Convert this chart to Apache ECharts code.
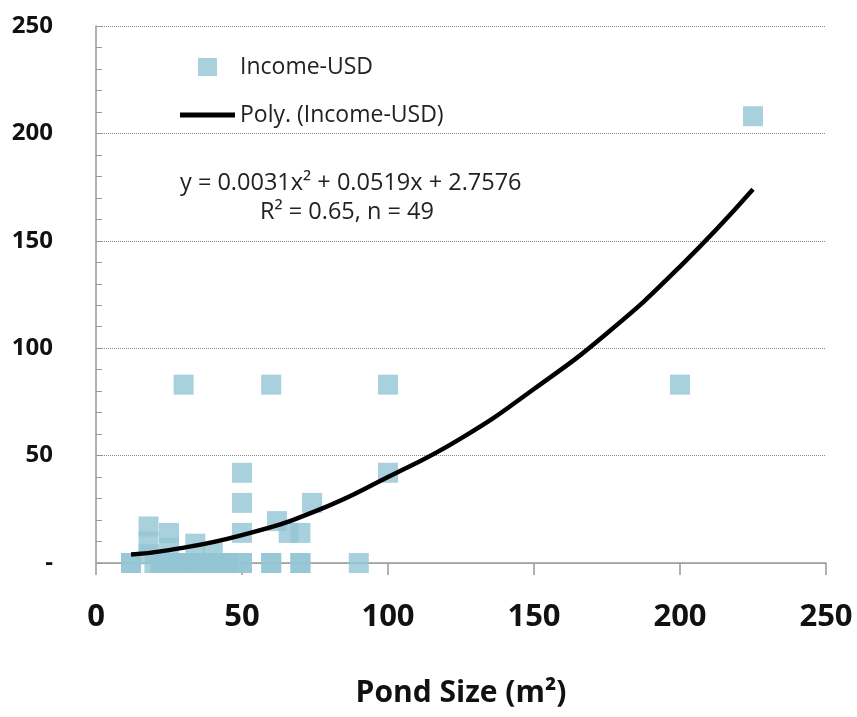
<!DOCTYPE html>
<html>
<head>
<meta charset="utf-8">
<script src="https://cdn.jsdelivr.net/npm/echarts@6/dist/echarts.min.js"></script>
<style>
  html, body { margin: 0; padding: 0; background: #fff; }
  #chart { width: 857px; height: 717px; }
</style>
</head>
<body>
<div id="chart"></div>
<script>
// pond size (m2) vs income (USD)
var pondSize = [
  225, 30, 60, 100, 200, 100,
  50, 50, 50, 50, 74, 62, 66, 70,
  60, 70, 90, 12, 18, 18, 18, 25, 25,
  34, 40, 23, 28, 32, 36, 40, 45,
  12, 23, 28, 32, 36, 45, 50, 60, 70,
  25, 30, 20, 40, 45, 35, 22, 27, 38
];
var income = [
  208, 83, 83, 83, 83, 42,
  42, 28, 14, 0, 28, 19.5, 14, 14,
  0, 0, 0, 0, 17, 10, 4, 14, 7,
  9, 5, 0, 0, 0, 0, 0, 0,
  0, 0, 0, 0, 0, 0, 0, 0, 0,
  0, 0, 0, 0, 0, 0, 0, 0, 0
];
// trend curve points
var trendX = [12, 25, 50, 75, 100, 125, 150, 175, 200, 225];
var trendY = [4, 6, 13, 24, 40, 58, 81, 107, 138, 174];

var yTicks = [0, 50, 100, 150, 200, 250];

var chart = echarts.init(document.getElementById('chart'));

var pts = pondSize.map(function (x, i) { return [x, income[i]]; });
var trend = trendX.map(function (x, i) { return [x, trendY[i]]; });

var txt = { fontFamily: 'Open Sans', fontSize: 23, color: '#222', lineHeight: 30 };

var option = {
  backgroundColor: '#fff',
  animation: false,
  grid: { left: 96, right: 31, top: 26, bottom: 154 },
  legend: [
    {
      data: [{ name: 'Income-USD', icon: 'rect' }],
      left: 198, top: 52, padding: 0,
      itemWidth: 19, itemHeight: 18,
      textStyle: Object.assign({}, txt, { padding: [0, 0, 0, 18] })
    },
    {
      data: [{ name: 'Poly. (Income-USD)', icon: 'rect' }],
      left: 180, top: 100, padding: 0,
      itemWidth: 55, itemHeight: 5,
      textStyle: txt
    }
  ],
  xAxis: {
    type: 'value',
    min: 0, max: 250, interval: 50,
    name: 'Pond Size (m²)',
    nameLocation: 'middle',
    nameGap: 115,
    nameTextStyle: { fontFamily: 'Open Sans', fontSize: 30, fontWeight: 'bold', color: '#111' },
    axisLine: { lineStyle: { color: '#999', width: 1.5 } },
    axisTick: { show: true, inside: false, length: 12, lineStyle: { color: '#999', width: 1.5 } },
    axisLabel: { margin: 39, fontFamily: 'Open Sans', fontSize: 31, fontWeight: 'bold', color: '#111' },
    splitLine: { show: false }
  },
  yAxis: {
    type: 'value',
    min: 0, max: 250, interval: 50,
    axisLine: { show: true, lineStyle: { color: '#999', width: 1.5 } },
    axisTick: { show: true, inside: true, length: 6, lineStyle: { color: '#999' } },
    minorTick: { show: true, splitNumber: 5, length: 6, lineStyle: { color: '#999' } },
    axisLabel: {
      margin: 43, fontFamily: 'Open Sans', fontSize: 24, fontWeight: 'bold', color: '#111',
      formatter: function (v) { return v === yTicks[0] ? '-' : String(v); }
    },
    splitLine: { show: true, lineStyle: { type: 'dotted', color: '#888', width: 1 } }
  },
  series: [
    {
      name: 'Income-USD',
      type: 'scatter',
      symbol: 'rect',
      symbolSize: 20,
      itemStyle: { color: '#93c4d5' },
      data: pts,
      z: 2
    },
    {
      name: 'Poly. (Income-USD)',
      type: 'line',
      smooth: true,
      showSymbol: false,
      symbol: 'none',
      lineStyle: { color: '#000', width: 4.5 },
      itemStyle: { color: '#000' },
      data: trend,
      z: 3
    }
  ],
  graphic: [
    {
      type: 'text', x: 180, y: 183,
      style: { text: 'y = 0.0031x² + 0.0519x + 2.7576', font: '23.5px "Open Sans"', fill: '#222', verticalAlign: 'middle' }
    },
    {
      type: 'text', x: 260, y: 212,
      style: { text: 'R² = 0.65, n = 49', font: '23.5px "Open Sans"', fill: '#222', verticalAlign: 'middle' }
    }
  ]
};

chart.setOption(option);
</script>
</body>
</html>
